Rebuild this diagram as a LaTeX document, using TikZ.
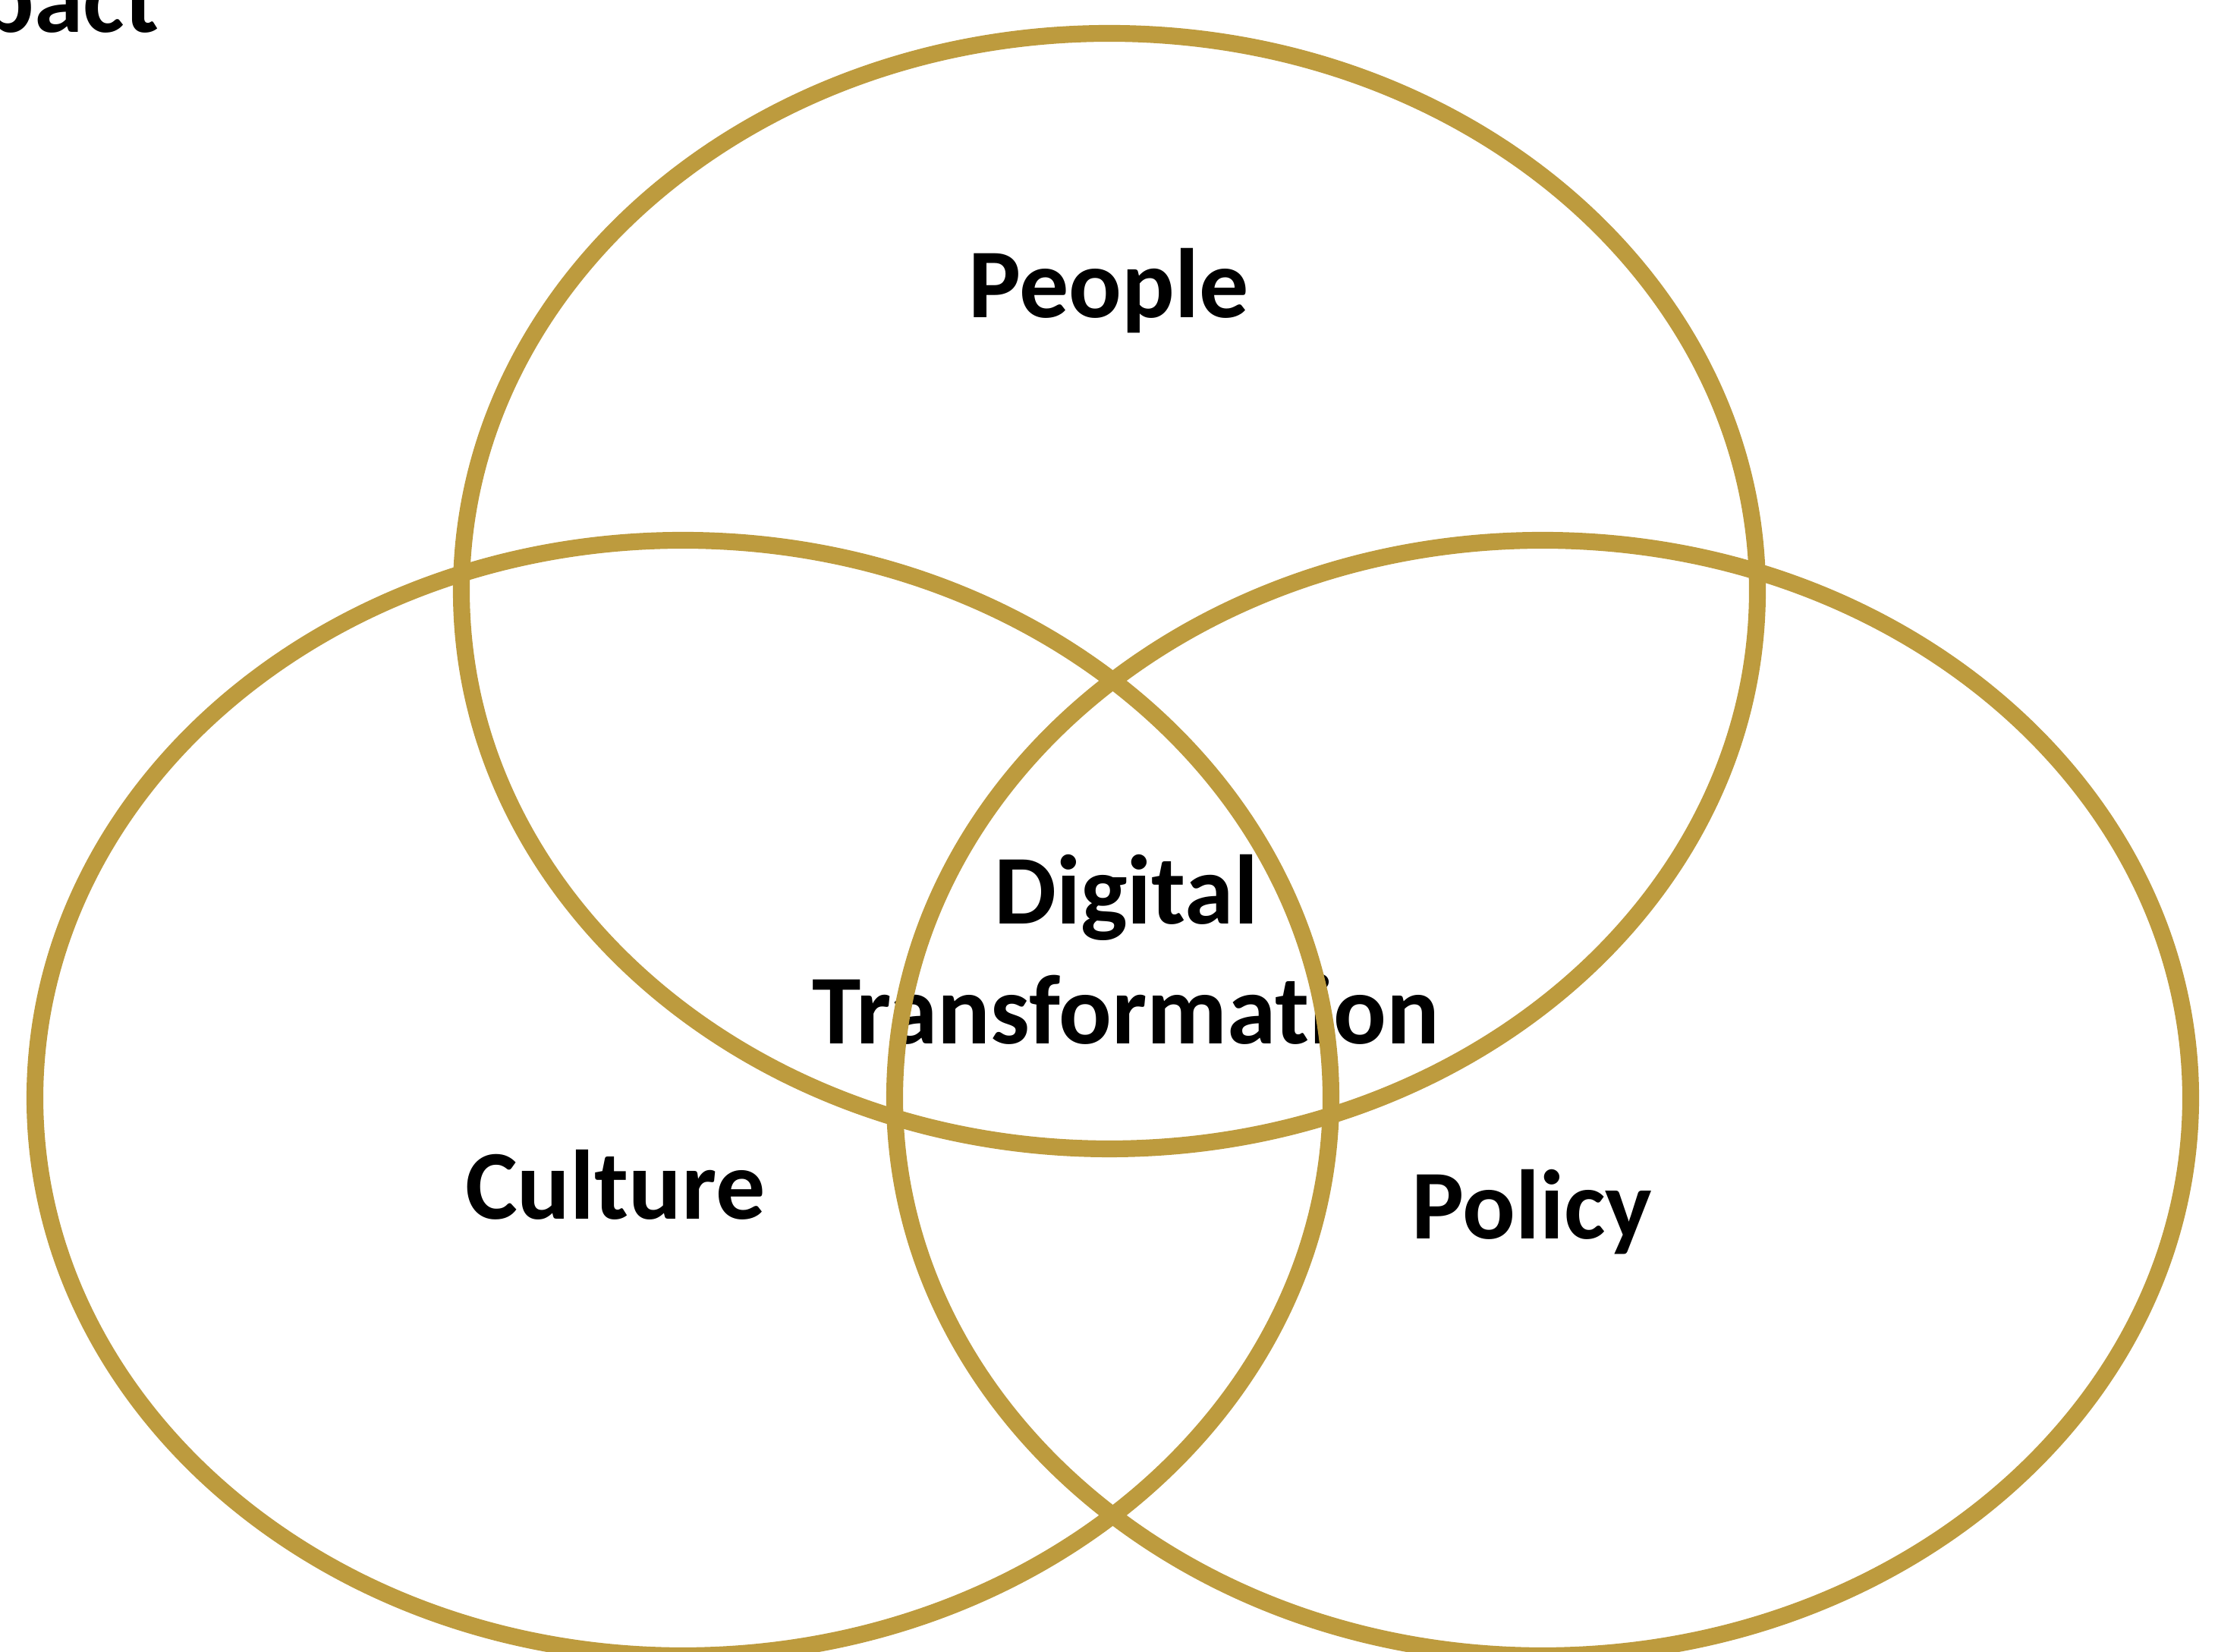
\documentclass[tikz,border=0pt]{standalone}
\usepackage{fontspec}
\setmainfont[Ligatures=NoCommon]{Carlito}
\usepackage{xcolor}
\definecolor{vennGold}{HTML}{BD9B3E}
\usetikzlibrary{shapes.geometric,positioning}
\tikzset{venn/.style={ellipse,draw=vennGold,line width=6.3pt,minimum width=17.08cm,minimum height=14.7cm,inner sep=0pt},
  lbl/.style={font=\bfseries\fontsize{37}{45}\selectfont,anchor=base,inner sep=0pt,align=center}}
\begin{document}
\begin{tikzpicture}
        \useasboundingbox (0,0) rectangle (29.23,21.77);
        \node[lbl,anchor=base east] (title) at (2.10,21.34) {pact};
        \node[lbl] (people) at (14.61,17.58) {People};
        \node[lbl] (digital) at (14.84,8.01) {Digital\\Transformation};
        \node[lbl] (culture) at (8.11,5.70) {Culture};
        \node[lbl] (policy) at (20.19,5.44) {Policy};
        \node[venn] (top) at (14.62,13.98) {};
        \node[venn] (left) at (9.00,7.30) {};\node[venn] (right) at (20.33,7.30) {};
      \end{tikzpicture}
\end{document}
